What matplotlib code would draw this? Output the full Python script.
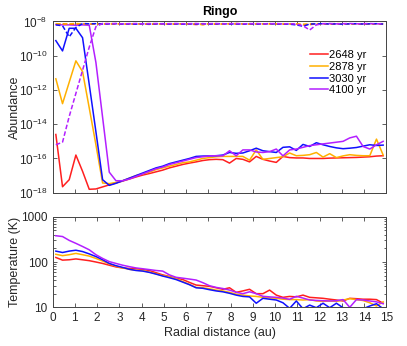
import numpy as np
import matplotlib
matplotlib.use("Agg")
from matplotlib import pyplot as plt
from matplotlib.ticker import FixedLocator, NullLocator, LogLocator, NullFormatter

plt.rcParams["font.family"] = ["Liberation Sans", "DejaVu Sans"]

# radial grid (cell centres, au)
RADIUS_AU = [0.15, 0.45, 0.75, 1.05, 1.35, 1.65, 1.95, 2.25, 2.55, 2.85,
             3.15, 3.45, 3.75, 4.05, 4.35, 4.65, 4.95, 5.25, 5.55, 5.85,
             6.15, 6.45, 6.75, 7.05, 7.35, 7.65, 7.95, 8.25, 8.55, 8.85,
             9.15, 9.45, 9.75, 10.05, 10.35, 10.65, 10.95, 11.25, 11.55, 11.85,
             12.15, 12.45, 12.75, 13.05, 13.35, 13.65, 13.95, 14.25, 14.55, 14.85]

LABELS = ["2648 yr", "2878 yr", "3030 yr", "4100 yr"]
COLORS = ["#ff1f1f", "#ffb000", "#1010ff", "#b31fff"]

# log10 abundance, solid lines
LOG_AB_2648 = [-14.6, -17.65, -17.24, -15.8, -16.75, -17.8, -17.78, -17.66, -17.54, -17.43,
               -17.32, -17.2, -17.08, -16.97, -16.88, -16.78, -16.68, -16.55, -16.45, -16.35,
               -16.27, -16.2, -16.12, -16.07, -16.05, -16.07, -16.27, -16.0, -16.05, -16.2,
               -15.88, -16.05, -16.15, -16.23, -15.88, -15.95, -15.97, -15.97, -16.0, -16.0,
               -16.0, -15.98, -15.97, -15.96, -15.95, -15.94, -15.92, -15.9, -15.86, -15.84]
LOG_AB_2878 = [-11.35, -12.8, -11.55, -10.3, -10.93, -13.05, -15.2, -17.43, -17.47, -17.4,
               -17.3, -17.15, -17.0, -16.9, -16.8, -16.65, -16.55, -16.45, -16.35, -16.25,
               -16.2, -16.1, -16.0, -15.95, -15.9, -15.88, -15.88, -15.88, -15.88, -16.1,
               -15.5, -16.05, -16.0, -15.95, -15.9, -15.68, -15.84, -15.82, -15.78, -15.65,
               -15.92, -15.72, -15.95, -15.85, -15.78, -15.82, -15.84, -15.84, -14.87, -15.8]
LOG_AB_3030 = [-9.12, -9.72, -8.4, -8.4, -8.95, -11.68, -14.44, -17.24, -17.57, -17.45,
               -17.3, -17.15, -17.0, -16.85, -16.7, -16.55, -16.45, -16.3, -16.2, -16.1,
               -16.0, -15.88, -15.86, -15.85, -15.84, -15.8, -15.65, -15.7, -15.68, -15.55,
               -15.4, -15.55, -15.6, -15.65, -15.35, -15.32, -15.53, -15.18, -15.3, -15.08,
               -15.2, -15.3, -15.38, -15.43, -15.4, -15.36, -15.28, -15.2, -15.24, -15.22]
LOG_AB_4100 = [-8.18, -8.2, -8.2, -8.22, -8.2, -8.22, -10.4, -13.6, -16.8, -17.3,
               -17.3, -17.2, -17.05, -16.9, -16.75, -16.6, -16.5, -16.35, -16.25, -16.15,
               -16.05, -15.95, -15.9, -15.85, -15.84, -15.85, -15.55, -15.84, -15.5, -15.5,
               -15.62, -15.65, -15.6, -15.45, -15.85, -15.5, -15.45, -15.35, -15.25, -15.2,
               -15.15, -15.1, -15.05, -15.0, -14.8, -14.7, -15.3, -15.45, -15.2, -15.0]

# log10 abundance, dashed lines
LOG_ABD_2648 = [-8.15, -8.14, -8.16, -8.15, -8.13, -8.15, -8.16, -8.14, -8.15, -8.13,
                -8.15, -8.16, -8.14, -8.15, -8.17, -8.15, -8.14, -8.16, -8.15, -8.13,
                -8.15, -8.18, -8.15, -8.14, -8.16, -8.15, -8.13, -8.15, -8.14, -8.16,
                -8.15, -8.14, -8.13, -8.15, -8.16, -8.14, -8.15, -8.2, -8.18, -8.15,
                -8.14, -8.16, -8.15, -8.13, -8.15, -8.14, -8.16, -8.15, -8.14, -8.15]
LOG_ABD_2878 = [-8.13, -8.15, -8.14, -8.12, -8.14, -8.13, -8.15, -8.14, -8.12, -8.14,
                -8.16, -8.13, -8.15, -8.14, -8.12, -8.14, -8.15, -8.13, -8.14, -8.16,
                -8.14, -8.13, -8.2, -8.14, -8.13, -8.15, -8.14, -8.12, -8.14, -8.15,
                -8.13, -8.14, -8.16, -8.14, -8.13, -8.15, -8.14, -8.16, -8.14, -8.13,
                -8.15, -8.14, -8.12, -8.14, -8.16, -8.14, -8.13, -8.15, -8.14, -8.13]
LOG_ABD_3030 = [-8.2, -8.25, -8.9, -8.35, -8.12, -8.14, -8.13, -8.15, -8.14, -8.13,
                -8.15, -8.14, -8.16, -8.13, -8.15, -8.14, -8.13, -8.15, -8.14, -8.16,
                -8.14, -8.15, -8.13, -8.15, -8.14, -8.13, -8.15, -8.14, -8.16, -8.13,
                -8.15, -8.14, -8.13, -8.15, -8.14, -8.16, -8.2, -8.28, -8.15, -8.14,
                -8.13, -8.15, -8.14, -8.16, -8.14, -8.13, -8.15, -8.14, -8.13, -8.15]
LOG_ABD_4100 = [-15.2, -15.05, -13.55, -12.2, -10.85, -9.5, -8.3, -8.12, -8.13, -8.12,
                -8.14, -8.13, -8.12, -8.14, -8.13, -8.12, -8.14, -8.13, -8.12, -8.14,
                -8.13, -8.12, -8.14, -8.13, -8.12, -8.14, -8.13, -8.12, -8.14, -8.13,
                -8.12, -8.14, -8.13, -8.12, -8.14, -8.13, -8.15, -8.25, -8.5, -8.2,
                -8.13, -8.12, -8.14, -8.13, -8.12, -8.14, -8.13, -8.12, -8.14, -8.13]

# temperature (K)
T_2648 = [126, 110, 112, 117, 112, 107, 100, 93, 85, 78,
          74, 72, 71, 68, 65, 58, 52, 48, 44, 41,
          35.5, 31, 30, 29, 27, 25, 27, 21.4, 23, 25,
          20, 20, 24, 18.6, 16.6, 17.4, 17, 18.6, 16.6, 16.2,
          15.8, 15.1, 14.5, 13.8, 15.8, 15.5, 15.1, 15.1, 14.8, 12.3]
T_2878 = [148, 138, 145, 155, 145, 135, 120, 105, 91, 81,
          74, 69, 66, 64.5, 60, 55, 50, 47, 43, 37,
          32, 27.5, 27, 25.7, 24, 23, 21.4, 19.5, 18.6, 17.8,
          17.4, 16.6, 16.2, 15.8, 15.1, 14.8, 14.8, 14.5, 14.8, 13.8,
          13.5, 13.8, 13.5, 14.5, 15.5, 14.8, 14.1, 12.6, 10.7, 13.2]
T_3030 = [174, 162, 174, 182, 170, 151, 132, 112, 93, 83,
          76, 69, 65, 63, 59, 54, 49, 45, 41, 36,
          31.6, 27, 26.3, 24.5, 23, 22, 20.4, 18.6, 17.4, 17,
          12.3, 15.8, 15.1, 14.5, 12.6, 9.5, 13.8, 9.3, 11.2, 9.8,
          12.3, 9.8, 12.3, 9.8, 9.1, 9.1, 9.3, 10.7, 12, 9.3]
T_4100 = [380, 365, 300, 258, 220, 186, 145, 120, 102, 93,
          85, 79, 74, 71, 68, 65, 63, 52, 46, 44,
          42, 40, 35, 30, 27.5, 26, 24, 21.5, 20, 22,
          20, 17.5, 17, 16.6, 16, 15, 17.5, 16, 14.5, 14.2,
          14, 13.8, 14, 14.8, 10, 14.8, 14.5, 13.8, 13.2, 12]

solid = [LOG_AB_2648, LOG_AB_2878, LOG_AB_3030, LOG_AB_4100]
dashed = [LOG_ABD_2648, LOG_ABD_2878, LOG_ABD_3030, LOG_ABD_4100]
temps = [T_2648, T_2878, T_3030, T_4100]

AXCOL = "#444444"
TXTCOL = "#262626"

fig = plt.figure(figsize=(4.07, 3.46), dpi=100)
ax1 = fig.add_axes([0.129, 0.443, 0.8206, 0.495])
ax2 = fig.add_axes([0.129, 0.1118, 0.8206, 0.2619])

x = np.array(RADIUS_AU)
lines = []
for ab, col, lab in zip(solid, COLORS, LABELS):
    (ln,) = ax1.plot(x, 10.0 ** np.array(ab), color=col, lw=1.1, label=lab)
    lines.append(ln)
for ab, col in zip(dashed, COLORS):
    ax1.plot(x, 10.0 ** np.array(ab), color=col, lw=1.1, ls=(0, (3, 1.5)))

for T, col in zip(temps, COLORS):
    ax2.plot(x, T, color=col, lw=1.1)

ax1.set_yscale("log")
ax1.set_ylim(1e-18, 1e-8)
ax1.set_xlim(0, 15)
ydec = [-18, -16, -14, -12, -10, -8]
ax1.yaxis.set_major_locator(FixedLocator([10.0 ** d for d in ydec]))
ax1.yaxis.set_minor_locator(NullLocator())
ax1.set_yticklabels([r"$\mathregular{10^{%d}}$" % d for d in ydec])
ax1.set_xticks(range(0, 16))
ax1.set_xticklabels([])
ax1.set_ylabel("Abundance", fontsize=9, color=TXTCOL)
ax1.set_title("Ringo", fontsize=9, fontweight="bold", color="black", pad=5)

ax2.set_yscale("log")
ax2.set_ylim(10, 1000)
ax2.set_xlim(0, 15)
ax2.yaxis.set_major_locator(FixedLocator([10, 100, 1000]))
ax2.yaxis.set_minor_locator(LogLocator(base=10, subs=np.arange(2, 10)))
ax2.yaxis.set_minor_formatter(NullFormatter())
ax2.set_yticklabels(["10", "100", "1000"])
ax2.set_xticks(range(0, 16))
ax2.set_xticklabels([str(v) for v in range(0, 16)])
ax2.set_xlabel("Radial distance (au)", fontsize=9, color=TXTCOL, labelpad=2)
ax2.set_ylabel("Temperature (K)", fontsize=9, color=TXTCOL)

for ax in (ax1, ax2):
    ax.tick_params(which="both", direction="in", top=True, right=True,
                   color=AXCOL, labelcolor=TXTCOL, labelsize=8.5, width=0.6)
    ax.tick_params(which="major", length=3)
    ax.tick_params(which="minor", length=1.8)
    for sp in ax.spines.values():
        sp.set_color(AXCOL)
        sp.set_linewidth(0.7)
    ax.yaxis.set_label_coords(-0.095, 0.5)

ax1.legend(handles=lines, loc="upper left", bbox_to_anchor=(0.771, 0.832),
           frameon=False, fontsize=8, handlelength=1.6, handletextpad=0.15,
           labelspacing=0.15, borderpad=0, borderaxespad=0)

fig.savefig("out.png", dpi=100)
